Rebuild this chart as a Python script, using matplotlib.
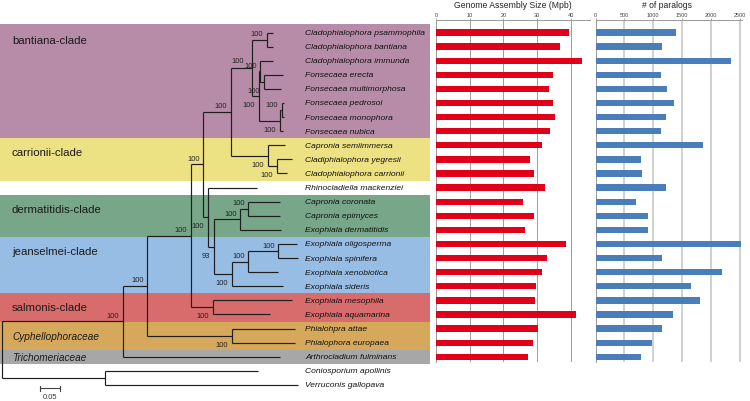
import matplotlib
matplotlib.use("Agg")
import matplotlib.pyplot as plt
from matplotlib.patches import Rectangle

# phylogeny: internal node = (id, depth, bootstrap, children), tip = (taxon, depth)
# depth = distance from root in substitutions/site
tree = ("root", 0.0, None, [
    ("G", 0.3025, "100", [
        ("A", 0.364, "100", [
            ("B", 0.473, "100", [
                ("C", 0.504, "100", [
                    ("D", 0.5725, "100", [
                        ("Bant", 0.6265, "100", [
                            ("Psp", 0.6625, "100", [
                                ("Cladophialophora psammophila", 0.679),
                                ("Cladophialophora bantiana", 0.679)]),
                            ("R", 0.644, "100", [
                                ("I", 0.6458, "100", [
                                    ("Cladophialophora immunda", 0.679),
                                    ("EM", 0.6565, "100", [
                                        ("Fonsecaea erecta", 0.7025),
                                        ("Fonsecaea multimorphosa", 0.6975)])]),
                                ("P", 0.696, "100", [
                                    ("PM", 0.700, "100", [
                                        ("Fonsecaea pedrosoi", 0.705),
                                        ("Fonsecaea monophora", 0.705)]),
                                    ("Fonsecaea nubica", 0.703)])])]),
                        ("Carr", 0.6665, "100", [
                            ("Capronia semiimmersa", 0.708),
                            ("CP", 0.6875, "100", [
                                ("Cladiphialophora yegresii", 0.725),
                                ("Cladophialophora carrionii", 0.7125)])])]),
                    ("F", 0.5165, "100", [
                        ("Rhinocladiella mackenziei", 0.6375),
                        ("E", 0.530, "93", [
                            ("Dg", 0.596, "100", [
                                ("CE", 0.6165, "100", [
                                    ("Capronia coronata", 0.696),
                                    ("Capronia epimyces", 0.696)]),
                                ("Exophiala dermatitidis", 0.698)]),
                            ("J", 0.575, "100", [
                                ("J2", 0.6165, "100", [
                                    ("OS", 0.6915, "100", [
                                        ("Exophiala oligosperma", 0.7375),
                                        ("Exophiala spinifera", 0.7415)]),
                                    ("Exophiala xenobiotica", 0.690)]),
                                ("Exophiala sideris", 0.704)])])])]),
                ("S", 0.5275, "100", [
                    ("Exophiala mesophila", 0.725),
                    ("Exophiala aquamarina", 0.671)])]),
            ("Ph", 0.575, "100", [
                ("Phialohpra attae", 0.733),
                ("Phialophora europaea", 0.733)])]),
        ("Arthrocladium fulminans", 0.696)]),
    ("O", 0.259, None, [
        ("Coniosporium apollinis", 0.641),
        ("Verruconis gallopava", 0.741)])])

# bars, in tree order (outgroup has none)
genome_size = [39.5, 36.9, 43.5, 34.8, 33.5, 34.8, 35.3, 33.9, 31.6, 28.0, 29.0, 32.5,
               25.8, 29.0, 26.5, 38.5, 33.0, 31.4, 29.6, 29.4, 41.7, 30.4, 28.9, 27.2]
paralogs = [1389, 1157, 2350, 1140, 1244, 1354, 1221, 1140, 1869, 787, 810, 1221,
            694, 914, 914, 2523, 1152, 2199, 1649, 1806, 1348, 1152, 978, 787]
size_ticks = [0, 10, 20, 30, 40]
paralog_ticks = [0, 500, 1000, 1500, 2000, 2500]

clade_names = ["bantiana-clade", "carrionii-clade", "dermatitidis-clade", "jeanselmei-clade",
               "salmonis-clade", "Cyphellophoraceae", "Trichomeriaceae"]
clade_first = [0, 8, 12, 15, 19, 21, 23]
clade_last = [7, 10, 14, 18, 20, 22, 23]
clade_colors = ["#b68ca9", "#ece283", "#77a688", "#98bde4", "#d86b6b", "#d6a85b", "#a7a7a7"]
clade_italic = [False, False, False, False, False, True, True]

# layout (pixels)
W, H = 750, 402
PX = 400.0           # px per unit branch length
X0 = 1.7             # root position
ROW0, ROWH = 33.5, 14.1
FONT = ["Liberation Sans", "DejaVu Sans"]
below = {"R", "EM", "P", "Carr", "CP", "F", "E", "J", "S", "Ph"}

fig = plt.figure(figsize=(7.5, 4.02), dpi=100)
ax = fig.add_axes([0, 0, 1, 1])
ax.set_xlim(-X0 / PX, (W - X0) / PX)
ax.set_ylim((H - ROW0) / ROWH, -ROW0 / ROWH)
ax.axis("off")

def dx(p):
    return p / PX

def dy(p):
    return p / ROWH

# clade boxes
for name, a, b, col, it in zip(clade_names, clade_first, clade_last, clade_colors, clade_italic):
    ax.add_patch(Rectangle((-X0 / PX, a - 0.6 if a == 0 else a - 0.5), 430 / PX,
                           b - a + (1.1 if a == 0 else 1.0), facecolor=col, lw=0, zorder=0))
    ly = min(a + 0.5, (a + b) / 2)
    ax.text(dx(12 - X0), ly, name, fontsize=7.2 if it else 8.2, family=FONT,
            style="italic" if it else "normal", va="center", ha="left", color="#1a1a1a")

taxa = []
LW = 0.85
LC = "#1e1e1e"

def draw(node, parent):
    if len(node) == 2:
        name, d = node
        y = len(taxa)
        taxa.append(name)
        ax.plot([parent, d], [y, y], color=LC, lw=LW, solid_capstyle="butt")
        ax.text(dx(305 - X0), y, name, fontsize=6.1, family=FONT, style="italic",
                va="center", ha="left", color="#111111")
        return y
    name, d, boot, kids = node
    ys = [draw(k, d) for k in kids]
    y = (ys[0] + ys[-1]) / 2
    ax.plot([d, d], [ys[0], ys[-1]], color=LC, lw=LW, solid_capstyle="butt")
    if parent is not None:
        ax.plot([parent, d], [y, y], color=LC, lw=LW, solid_capstyle="butt")
    if boot:
        if name in below:
            tx, ty = d - dx(4), y + dy(8.5)
        elif name == "Bant":
            tx, ty = d - dx(8), y - dy(7)
        else:
            tx, ty = d - dx(3.5), y - dy(6)
        ax.text(tx, ty, boot, fontsize=5.4, family=FONT, ha="right", va="center",
                color="#222222")
    return y

draw(tree, None)

# scale bar 0.05
sy = (389.3 - ROW0) / ROWH
sx = dx(40 - X0)
ax.plot([sx, sx + 0.05], [sy, sy], color="#444444", lw=0.8)
for e in (sx, sx + 0.05):
    ax.plot([e, e], [sy - dy(2.5), sy + dy(2.5)], color="#444444", lw=0.8)
ax.text(sx + 0.025, (398 - ROW0) / ROWH, "0.05", fontsize=5.4, family=FONT,
        ha="center", va="center", color="#333333")

# bar panels
top_px, bot_px = 21, 363
ylo = (bot_px - ROW0) / ROWH
yhi = (top_px - ROW0) / ROWH

def bar_panel(left_px, right_px, values, color, xmax, ticks, title, title_x, gridcol, gridlw):
    bx = fig.add_axes([left_px / W, 1 - bot_px / H, (right_px - left_px) / W,
                       (bot_px - top_px) / H])
    bx.patch.set_alpha(0)
    bx.barh(range(len(values)), values, height=0.45, color=color, zorder=3)
    bx.set_xlim(0, xmax)
    bx.set_ylim(ylo, yhi)
    bx.xaxis.tick_top()
    bx.set_xticks(ticks)
    bx.set_xticklabels([str(t) for t in ticks], family=FONT)
    bx.tick_params(axis="x", length=1.5, width=0.6, color="#999999", labelsize=4.0,
                   labelcolor="#444444", pad=0.8)
    bx.set_yticks([])
    for s in ("right", "bottom"):
        bx.spines[s].set_visible(False)
    for s in ("top", "left"):
        bx.spines[s].set_color("#9a9a9a")
        bx.spines[s].set_linewidth(0.7)
    bx.grid(axis="x", color=gridcol, lw=gridlw, zorder=1)
    bx.set_axisbelow(True)
    fig.text(title_x / W, 1 - 5.5 / H, title, fontsize=6.2, family=FONT,
             ha="center", va="center", color="#222222")
    return bx

bar_panel(436, 589.5, genome_size, "#e1001a", 45.6, size_ticks,
          "Genome Assembly Size (Mpb)", 513, "#9c9c9c", 0.7)
bar_panel(595.7, 741.7, paralogs, "#4a7ebb", 2535, paralog_ticks,
          "# of paralogs", 667, "#c4c4c4", 1.1)

fig.savefig("out.png", dpi=100)
